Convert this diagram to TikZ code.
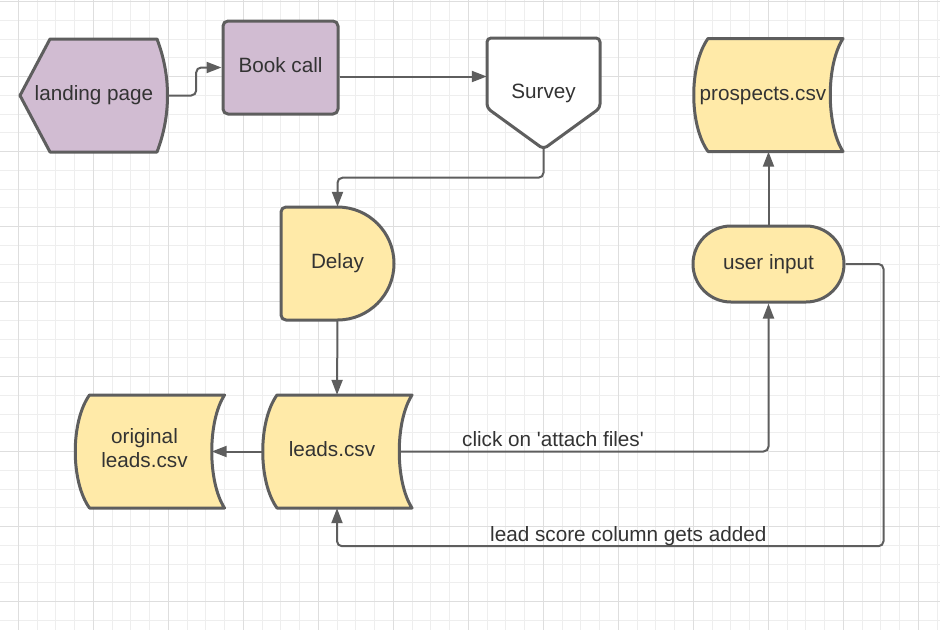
\documentclass[tikz,border=0pt]{standalone}
\usepackage{fontspec}
\setmainfont{Liberation Sans}
\usetikzlibrary{arrows.meta,calc,shapes.misc}

\pgfdeclarelayer{grid}
\pgfdeclarelayer{background}
\pgfsetlayers{grid,background,main}

\definecolor{gridminor}{HTML}{EEEEEE}
\definecolor{gridmajor}{HTML}{DEDEDE}
\definecolor{edge}{HTML}{5E5E5E}
\definecolor{ink}{HTML}{333333}
\definecolor{mauve}{HTML}{D1BCD2}
\definecolor{sand}{HTML}{FFEAA8}

\tikzset{
  every node/.style={font=\fontsize{20.7}{24}\selectfont, text=ink},
  box/.style={inner sep=0pt, text height=15pt, text depth=4.4pt},
  frame/.style={draw=edge, line width=3pt, line join=round},
  flow/.style={draw=edge, line width=2pt, rounded corners=5pt,
    -{Triangle[length=15pt,width=11pt]}},
  flowlabel/.style={anchor=base, yshift=5pt, inner sep=0pt},
}

\begin{document}
\begin{tikzpicture}[x=1pt,y=-1pt]
\useasboundingbox (0,0) rectangle (940,630);

% paper grid
\begin{pgfonlayer}{grid}
  \fill[white] (0,0) rectangle (940,630);
  \foreach \gx in {-0.45,18.3,...,945} \draw[gridminor, line width=1pt] (\gx,0) -- (\gx,630);
  \foreach \gy in {1.7,20.45,...,640} \draw[gridminor, line width=1pt] (0,\gy) -- (940,\gy);
  \foreach \gx in {18.3,93.3,...,945} \draw[gridmajor, line width=1pt] (\gx,0) -- (\gx,630);
  \foreach \gy in {1.7,76.7,...,640} \draw[gridmajor, line width=1pt] (0,\gy) -- (940,\gy);
\end{pgfonlayer}

% nodes
\node[box, minimum width=148pt, minimum height=113pt] (lp) at (94,95.5) {landing page};
\node[box, frame, fill=mauve, rounded corners=5pt, minimum width=115pt, minimum height=93pt] (bc) at (280.5,67.5) {Book call};
\node[box, minimum width=113pt, minimum height=111pt] (sv) at (543.5,93.5) {Survey};
\node[box, minimum width=150pt, minimum height=113pt,
  label={[box, xshift=-5pt]center:prospects.csv}] (pc) at (768,95) {};
\node[box, minimum width=113pt, minimum height=113pt] (dl) at (337.5,263.5) {Delay};
\node[box, frame, fill=sand, rounded rectangle, minimum width=151pt, minimum height=76pt] (ui) at (768.5,264) {user input};
\node[box, minimum width=150pt, minimum height=113pt,
  label={[box, xshift=-5pt]center:leads.csv}] (ld) at (337,451.5) {};
\node[box, minimum width=150pt, minimum height=113pt,
  label={[align=center, inner sep=0pt, xshift=-5pt, yshift=3.5pt]center:original\\leads.csv}] (ol) at (149.5,451.5) {};

% shape outlines behind the texts
\begin{pgfonlayer}{background}
  % display shape
  \draw[frame, fill=mauve, shift={(lp.center)}]
    (-74,0) -- (-44,-56.5) -- (63,-56.5)
    .. controls (77,-20) and (77,20) .. (63,56.5)
    -- (-44,56.5) -- cycle;
  % off-page connector
  \draw[frame, fill=white, rounded corners=4pt, shift={(sv.center)}]
    (-56.5,-55.5) -- (56.5,-55.5) -- (56.5,14.5) -- (0,55.5) -- (-56.5,14.5) -- cycle;
  % delay
  \draw[frame, fill=sand, shift={(dl.center)}]
    (0,-56.5) -- (-51.5,-56.5)
    .. controls (-54.3,-56.5) and (-56.5,-54.3) .. (-56.5,-51.5)
    -- (-56.5,51.5)
    .. controls (-56.5,54.3) and (-54.3,56.5) .. (-51.5,56.5)
    -- (0,56.5)
    .. controls (31.2,56.5) and (56.5,31.2) .. (56.5,0)
    .. controls (56.5,-31.2) and (31.2,-56.5) .. (0,-56.5) -- cycle;
  % stored data
  \foreach \n in {pc,ld,ol}
    \draw[frame, fill=sand, shift={(\n.center)}]
      (-60,-56.5) -- (75,-56.5)
      .. controls (58,-30) and (58,30) .. (75,56.5)
      -- (-60,56.5)
      .. controls (-79,30) and (-79,-30) .. (-60,-56.5) -- cycle;
\end{pgfonlayer}

% connectors
\draw[flow] (lp.east) -- ++(28,0) |- (bc.west);
\coordinate (bcout) at ([yshift=-9pt]bc.east);
\draw[flow] (bcout) -- (bcout -| sv.west);
\draw[flow] (sv.south) -- ++(0,28.5) -| (dl.north);
\draw[flow] (dl.south) -- (ld.north);
\draw[flow] (ld.west) -- ([xshift=-13pt]ol.east);
\draw[flow] ([xshift=-14pt]ld.east) -| node[flowlabel, pos=0.209] (attach) {click on \textquotesingle attach files\textquotesingle} (ui.south);
\draw[flow] (ui.north) -- (ui.north |- pc.south);
\draw[flow] (ui.east) -- ++(38,0) |- node[flowlabel, pos=0.7335] (score) {lead score column gets added} ([yshift=-38pt]ld.south) -- (ld.south);

\end{tikzpicture}
\end{document}
